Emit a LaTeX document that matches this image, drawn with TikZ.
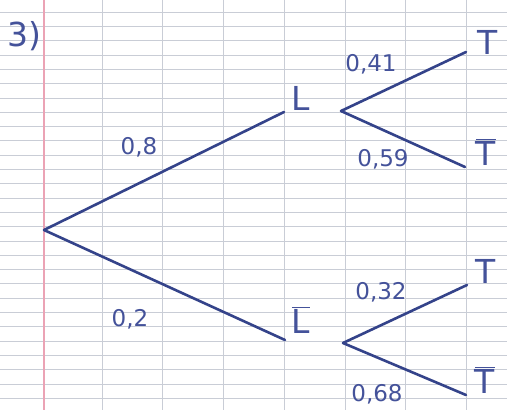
\documentclass[tikz,border=0pt]{standalone}
\usepackage{fontspec}
\newfontfamily\hand{DejaVu Sans}
\begin{document}
\begin{tikzpicture}[x=1pt,y=-1pt,
  ink/.style={draw=inkc,line width=2.6pt,line cap=round},
  lab/.style={text=txtc,font=\hand\fontsize{23}{23}\selectfont,inner sep=0pt},
  ev/.style={text=txtc,font=\hand\fontsize{33}{33}\selectfont,inner sep=0pt}]
\definecolor{inkc}{HTML}{34438A}
\definecolor{txtc}{HTML}{44529A}
\definecolor{gridc}{HTML}{C9CDD6}
\definecolor{marg}{HTML}{EBA3B5}
\fill[white] (0,0) rectangle (507,410);
\useasboundingbox (0,0) rectangle (507,410);
% grid paper
\foreach \k in {0,...,28} {\draw[gridc,line width=0.8pt] (0,{12.1+14.3*\k}) -- (507,{12.1+14.3*\k});}
\foreach \x in {102,162,223,284,345,405,466} {\draw[gridc,line width=0.8pt] (\x,0) -- (\x,410);}
\draw[marg,line width=1.2pt] (44,0) -- (44,410);
% title
\node[ev] (title) at (24,36) {3)};
% tree
\coordinate (R) at (44,230);
\coordinate (Le) at (284,112);
\coordinate (Lbe) at (285,340);
\node[ev] (L) at (301,98) {L};
\node[ev] (Lb) at (301,320) {$\overline{\hbox{\hand L}}$};
\coordinate (La) at (341,111);
\coordinate (Lba) at (343,343);
\coordinate (T1) at (466,52);
\coordinate (T2) at (465,167);
\coordinate (T3) at (467,285);
\coordinate (T4) at (466,395);
\node[ev] (t1) at (488,42) {T};
\node[ev] (t2) at (486,152) {$\overline{\hbox{\hand T}}$};
\node[ev] (t3) at (486,271) {T};
\node[ev] (t4) at (485,380) {$\overline{\hbox{\hand T}}$};
\draw[ink] (R) -- (Le);
\draw[ink] (R) -- (Lbe);
\draw[ink] (La) -- (T1);
\draw[ink] (La) -- (T2);
\draw[ink] (Lba) -- (T3);
\draw[ink] (Lba) -- (T4);
% probabilities
\node[lab] (p1) at (139,147) {0,8};
\node[lab] (p2) at (130,319) {0,2};
\node[lab] (p3) at (371,64) {0,41};
\node[lab] (p4) at (383,159) {0,59};
\node[lab] (p5) at (381,292) {0,32};
\node[lab] (p6) at (377,394) {0,68};
\end{tikzpicture}
\end{document}
